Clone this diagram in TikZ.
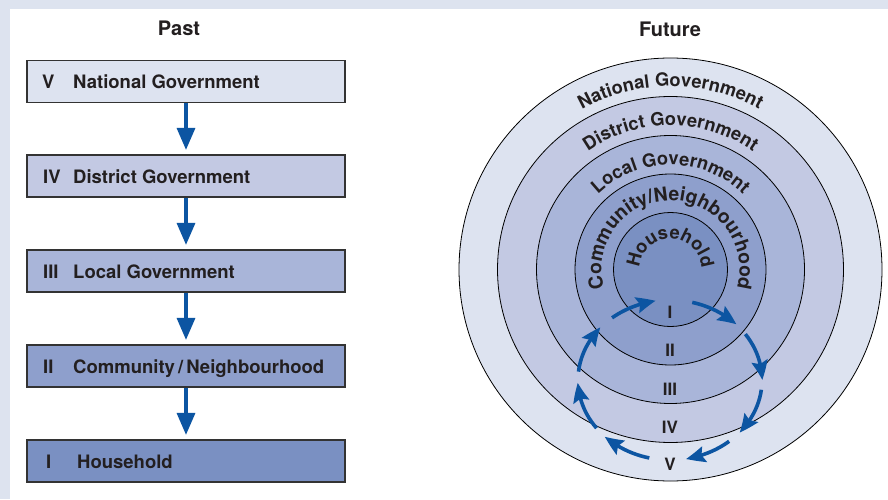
\documentclass[tikz,border=0pt]{standalone}
\usepackage{fontspec}
\setmainfont{TeX Gyre Heros}
\usetikzlibrary{arrows.meta,bending,decorations.text}
\definecolor{bgstrip}{HTML}{DDE3EF}
\definecolor{lvV}{HTML}{DDE3F0}
\definecolor{lvIV}{HTML}{C3C9E3}
\definecolor{lvIII}{HTML}{A9B5D9}
\definecolor{lvII}{HTML}{8E9FCC}
\definecolor{lvI}{HTML}{7A90C2}
\definecolor{arrowblue}{HTML}{0C55A2}
\definecolor{inktext}{HTML}{231F20}
\definecolor{boxline}{HTML}{333333}
\newcommand\ringfont{\fontsize{18.3}{20}\selectfont\bfseries}
\newcommand\ringfontb{\fontsize{19.3}{21}\selectfont\bfseries}
\begin{document}
\begin{tikzpicture}[x=1pt,y=1pt,
  lvlbox/.style={draw=boxline, line width=1.2pt, minimum width=318pt, minimum height=42pt, inner sep=0pt},
  lbl/.style={font=\fontsize{18.5}{21}\selectfont\bfseries, text=inktext, inner sep=0pt, anchor=base west},
  titlelbl/.style={font=\fontsize{20}{23}\selectfont\bfseries, text=inktext, inner sep=0pt, anchor=base},
  numlbl/.style={font=\fontsize{17}{20}\selectfont\bfseries, text=inktext, inner sep=0pt},
  ring/.style={draw=black, line width=0.8pt},
  larrow/.style={draw=arrowblue, line width=3.4pt, -{Triangle[length=22pt,width=18pt]}},
  rarrow/.style={draw=arrowblue, line width=3.6pt, -{Stealth[length=19pt,width=16pt,inset=3pt,bend]}}
]
\fill[bgstrip] (0,0) rectangle (888,499);
\fill[white] (10,0) rectangle (888,490);
\useasboundingbox (0,0) rectangle (888,499);

% ---------- Past ----------
\node[titlelbl] (past) at (179,463) {Past};
\node[lvlbox, fill=lvV]   (b5) at (186,417.5) {};
\node[lvlbox, fill=lvIV]  (b4) at (186,323) {};
\node[lvlbox, fill=lvIII] (b3) at (186,228) {};
\node[lvlbox, fill=lvII]  (b2) at (186,133) {};
\node[lvlbox, fill=lvI]   (b1) at (186,38) {};

\node[lbl] (r5) at (42,410.5) {V};
\node[lbl] (t5) at (73,410.5) {National Government};
\node[lbl] (r4) at (43,316) {IV};
\node[lbl] (t4) at (73,316) {District Government};
\node[lbl] (r3) at (43,221) {III};
\node[lbl] (t3) at (73,221) {Local Government};
\node[lbl] (r2) at (43,126) {II};
\node[lbl] (t2) at (73,126) {Community\,/\,Neighbourhood};
\node[lbl] (r1) at (46,31) {I};
\node[lbl] (t1) at (77,31) {Household};

\draw[larrow] (b5.south) -- ([yshift=4.5pt]b4.north);
\draw[larrow] (b4.south) -- ([yshift=4.5pt]b3.north);
\draw[larrow] (b3.south) -- ([yshift=4.5pt]b2.north);
\draw[larrow] (b2.south) -- ([yshift=4.5pt]b1.north);

% ---------- Future ----------
\node[titlelbl] (future) at (670,462) {Future};
\coordinate (C) at (670.5,229.5);
\fill[lvV,ring]   (C) circle[radius=211.5];
\fill[lvIV,ring]  (C) circle[radius=173];
\fill[lvIII,ring] (C) circle[radius=134];
\fill[lvII,ring]  (C) circle[radius=95.5];
\fill[lvI,ring]   (C) circle[radius=57];

\path[decorate, decoration={text along path, text align=center, text color=inktext,
  text={|\ringfont|National Government}}]
  ([shift={(180:183)}]C) arc[start angle=180, end angle=0, radius=183];
\path[decorate, decoration={text along path, text align=center, text color=inktext,
  text={|\ringfont|District Government}}]
  ([shift={(180:144)}]C) arc[start angle=180, end angle=0, radius=144];
\path[decorate, decoration={text along path, text align=center, text color=inktext,
  text={|\ringfont|Local Government}}]
  ([shift={(180:104.5)}]C) arc[start angle=180, end angle=0, radius=104.5];
\path[decorate, decoration={text along path, text align=center, text color=inktext,
  text={|\ringfontb|Community/Neighbourhood}}]
  ([shift={(230:69)}]C) arc[start angle=230, end angle=-50, radius=69];
\path[decorate, decoration={text along path, text align=center, text color=inktext,
  text={|\ringfont|Household}}]
  ([shift={(240:31)}]C) arc[start angle=240, end angle=-60, radius=31];

\node[numlbl] (nI)   at (670,187) {I};
\node[numlbl] (nII)  at (670,149) {II};
\node[numlbl] (nIII) at (670,110) {III};
\node[numlbl] (nIV)  at (670,72)  {IV};
\node[numlbl] (nV)   at (670,35)  {V};

\coordinate (E) at (670,119);
\foreach \a/\b in {76/44, 35/0, -7/-41, -50/-80, -103/-135, -143/-178, -186/-221, -231/-261}
  \draw[rarrow] ([shift={(\a:92 and 80)}]E) arc[start angle=\a, end angle=\b, x radius=92, y radius=80];
\end{tikzpicture}
\end{document}
